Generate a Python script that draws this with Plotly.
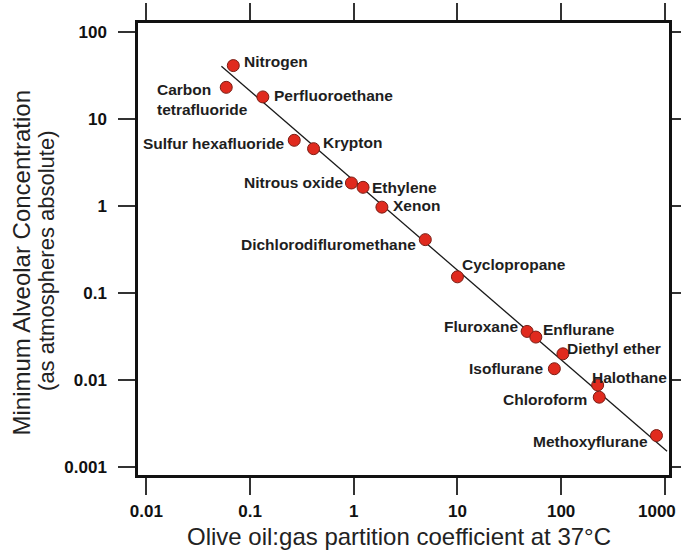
import numpy as np
import plotly.graph_objects as go

# ---- data ----
names = ["Nitrogen", "Carbon<br>tetrafluoride", "Perfluoroethane", "Sulfur hexafluoride",
         "Krypton", "Nitrous oxide", "Ethylene", "Xenon", "Dichlorodifluromethane",
         "Cyclopropane", "Fluroxane", "Enflurane", "Diethyl ether", "Isoflurane",
         "Halothane", "Chloroform", "Methoxyflurane"]
oil_gas = [0.069, 0.059, 0.133, 0.267, 0.41, 0.95, 1.23, 1.87, 4.9,
           10.0, 47, 57, 104, 86, 225, 233, 830]
mac = [41.3, 23.2, 18.0, 5.7, 4.57, 1.84, 1.64, 0.97, 0.41,
       0.153, 0.036, 0.031, 0.0199, 0.0134, 0.0087, 0.0063, 0.00228]
trend_x = [0.053, 1050]
trend_y = [40.6, 0.0015]
x_ticks = [0.01, 0.1, 1, 10, 100, 1000]
x_tick_labels = ["0.01", "0.1", "1", "10", "100", "1000"]
y_ticks = [0.001, 0.01, 0.1, 1, 10, 100]
y_tick_labels = ["0.001", "0.01", "0.1", "1", "10", "100"]

# label placement (pixel offsets from marker, anchor side)
label_style = {
    "Nitrogen": ("left", 9, 4),
    "Carbon<br>tetrafluoride": ("left", -71, -12),
    "Perfluoroethane": ("left", 9, 1),
    "Sulfur hexafluoride": ("right", -7, -3),
    "Krypton": ("left", 7, 6),
    "Nitrous oxide": ("right", -6, 0),
    "Ethylene": ("left", 7, 0),
    "Xenon": ("left", 9, 2),
    "Dichlorodifluromethane": ("right", -7, -5),
    "Cyclopropane": ("left", 3, 12),
    "Fluroxane": ("right", -7, 5),
    "Enflurane": ("left", 5, 8),
    "Diethyl ether": ("left", 2, 5),
    "Isoflurane": ("right", -9, 0),
    "Halothane": ("left", -8, 8),
    "Chloroform": ("right", -10, -2),
    "Methoxyflurane": ("right", -6, -6),
}

FONT = "Arial, Liberation Sans, sans-serif"
TICKFONT = dict(family=FONT, size=17, color="#111111", weight="bold")

fig = go.Figure()
fig.add_trace(go.Scatter(x=trend_x, y=trend_y, mode="lines",
                         line=dict(color="#1a1a1a", width=1.3), showlegend=False,
                         hoverinfo="skip"))
fig.add_trace(go.Scatter(x=oil_gas, y=mac, mode="markers", text=names,
                         marker=dict(size=12, color="#e02a1e",
                                     line=dict(color="#7a1d14", width=1)),
                         showlegend=False))

annotations = []
for n, xv, yv in zip(names, oil_gas, mac):
    side, dx, dy = label_style[n]
    annotations.append(dict(
        x=np.log10(xv), y=np.log10(yv), xref="x", yref="y", text=n,
        showarrow=False, xanchor=side, yanchor="middle", xshift=dx, yshift=dy,
        align="left", font=dict(family=FONT, size=15.5, color="#1e1e1e", weight="bold"),
    ))

# last x tick label sits pulled in from the right edge
axis_tick_text = x_tick_labels[:-1] + [""]
annotations.append(dict(
    x=np.log10(x_ticks[-1]), y=0, xref="x", yref="paper", text=x_tick_labels[-1],
    showarrow=False, xanchor="right", yanchor="middle", xshift=13, yshift=-36,
    font=TICKFONT))

# axis titles
annotations.append(dict(
    text="Olive oil:gas partition coefficient at 37°C", xref="paper", yref="paper",
    x=0.4915, y=-0.136, xanchor="center", yanchor="middle", showarrow=False,
    font=dict(family=FONT, size=24, color="#222222")))
annotations.append(dict(
    text="Minimum Alveolar Concentration", xref="paper", yref="paper",
    x=-0.2203, y=0.468, xanchor="center", yanchor="middle", showarrow=False,
    textangle=-90, font=dict(family=FONT, size=24, color="#222222")))
annotations.append(dict(
    text="(as atmospheres absolute)", xref="paper", yref="paper",
    x=-0.171, y=0.474, xanchor="center", yanchor="middle", showarrow=False,
    textangle=-90, font=dict(family=FONT, size=22, color="#222222")))

axis_common = dict(
    type="log", showgrid=False, zeroline=False, automargin=False,
    showline=True, linecolor="#111111", linewidth=2.5, mirror="ticks",
    ticks="outside", ticklen=17, tickwidth=2, tickcolor="#333333",
    tickfont=TICKFONT,
)

fig.update_layout(
    width=681, height=551,
    margin=dict(l=138, r=12, t=23, b=76),
    paper_bgcolor="white", plot_bgcolor="white",
    xaxis=dict(axis_common, range=[-2.08, 3.04], tickvals=x_ticks,
               ticktext=axis_tick_text, ticklabelstandoff=2),
    yaxis=dict(axis_common, range=[-3.096, 2.106], tickvals=y_ticks,
               ticktext=y_tick_labels, ticklabelstandoff=8),
    annotations=annotations,
)

fig.write_html("out.html")
